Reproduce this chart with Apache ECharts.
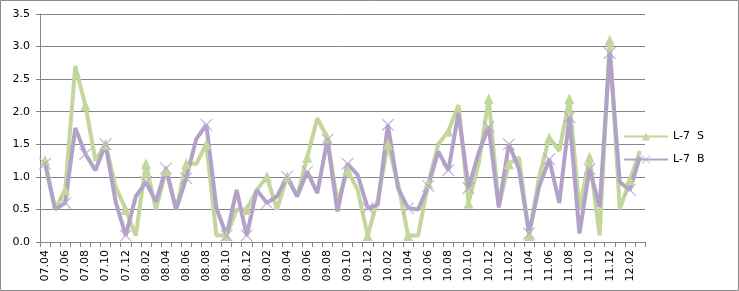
<!DOCTYPE html>
<html><head><meta charset="utf-8">
<script src="https://cdn.jsdelivr.net/npm/echarts@6/dist/echarts.min.js"></script>
<style>html,body{margin:0;padding:0;background:#fff}#c{width:739px;height:291px}</style>
</head><body><div id="c"></div>
<script>
const categories = ["07.04","07.05","07.06","07.07","07.08","07.09","07.10","07.11","07.12",
  "08.01","08.02","08.03","08.04","08.05","08.06","08.07","08.08","08.09","08.10","08.11","08.12",
  "09.01","09.02","09.03","09.04","09.05","09.06","09.07","09.08","09.09","09.10","09.11","09.12",
  "10.01","10.02","10.03","10.04","10.05","10.06","10.07","10.08","10.09","10.10","10.11","10.12",
  "11.01","11.02","11.03","11.04","11.05","11.06","11.07","11.08","11.09","11.10","11.11","11.12",
  "12.01","12.02","12.03"];
const seriesS = [1.25,0.5,0.8,2.7,2.1,1.25,1.5,0.85,0.5,
  0.1,1.2,0.5,1.1,0.5,1.2,1.2,1.5,0.1,0.1,0.5,0.5,
  0.8,1.0,0.5,1.0,0.7,1.3,1.9,1.6,0.6,1.1,0.8,0.1,
  0.65,1.5,0.9,0.1,0.1,0.9,1.5,1.7,2.1,0.6,1.2,2.2,
  0.55,1.2,1.3,0.1,1.0,1.6,1.4,2.2,0.5,1.3,0.1,3.1,
  0.5,0.95,1.4];
const seriesB = [1.2,0.5,0.6,1.75,1.35,1.1,1.5,0.62,0.1,
  0.7,0.92,0.62,1.13,0.5,0.98,1.58,1.8,0.52,0.1,0.8,0.1,
  0.8,0.6,0.7,1.0,0.7,1.08,0.75,1.57,0.47,1.2,1.03,0.52,
  0.57,1.8,0.83,0.52,0.5,0.86,1.39,1.1,1.98,0.83,1.37,1.77,
  0.53,1.5,1.12,0.13,0.85,1.27,0.6,1.92,0.13,1.12,0.54,2.9,
  0.92,0.8,1.31];
const yTicks = {min:0, max:3.5, interval:0.5};

const xPath = 'path://M0,0 L0.6,0 L5,4.4 L9.4,0 L10,0 L10,0.6 L5.6,5 L10,9.4 L10,10 L9.4,10 L5,5.6 L0.6,10 L0,10 L0,9.4 L4.4,5 L0,0.6 Z';
const fontFam = 'DejaVu Sans, Verdana, sans-serif';
const chart = echarts.init(document.getElementById('c'), null, {renderer:'canvas'});
chart.setOption({
  animation:false,
  backgroundColor:'#fff',
  graphic:[{type:'rect', shape:{x:0.5,y:0.5,width:738,height:290}, style:{fill:'none', stroke:'#8c8c8c', lineWidth:1}, z:-1}],
  grid:{left:40, right:94, top:14, bottom:49, containLabel:false},
  legend:{
    orient:'vertical', left:618, top:126, itemWidth:44, itemHeight:10, itemGap:12,
    textStyle:{fontFamily:fontFam, fontSize:11, color:'#000'},
    data:['L-7  S','L-7  B']
  },
  xAxis:{
    type:'category', data:categories, boundaryGap:true,
    axisLine:{lineStyle:{color:'#868686', width:1}},
    axisTick:{show:true, interval:0, length:5, lineStyle:{color:'#868686'}},
    axisLabel:{interval:1, rotate:90, fontFamily:fontFam, fontSize:11, color:'#000', margin:8}
  },
  yAxis:{
    type:'value', min:yTicks.min, max:yTicks.max, interval:yTicks.interval,
    axisLine:{show:true, lineStyle:{color:'#868686'}},
    axisTick:{show:true, length:4, lineStyle:{color:'#868686'}},
    splitLine:{lineStyle:{color:'#868686', width:1}},
    axisLabel:{formatter:v=>v.toFixed(1), fontFamily:fontFam, fontSize:11, color:'#000', margin:10}
  },
  series:[
    {name:'L-7  S', type:'line', data:seriesS, symbol:'triangle', symbolSize:[10,11],
     lineStyle:{color:'#C3D69B', width:4}, itemStyle:{color:'#C3D69B'}},
    {name:'L-7  B', type:'line', data:seriesB, symbol:xPath, symbolSize:12,
     lineStyle:{color:'#B3A2C7', width:4}, itemStyle:{color:'#B8A9CC'}}
  ]
});
</script></body></html>
